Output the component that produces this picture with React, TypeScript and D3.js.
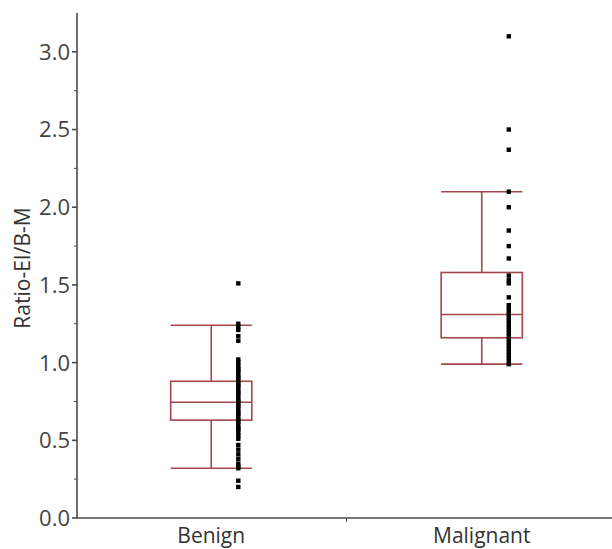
import React, { useEffect, useRef } from 'react';
import * as d3 from 'd3';

const categories = ['Benign', 'Malignant'];

// box statistics: [lower whisker, q1, median, q3, upper whisker]
const benignBox = [0.32, 0.63, 0.745, 0.88, 1.24];
const malignantBox = [0.99, 1.16, 1.31, 1.58, 2.10];

const benignPoints = [
  1.51, 1.25, 1.23, 1.21, 1.17, 1.14, 1.02, 1.00, 0.98, 0.96, 0.95, 0.93, 0.91, 0.90,
  0.88, 0.86, 0.85, 0.83, 0.81, 0.80, 0.78, 0.76, 0.75, 0.73, 0.72, 0.70, 0.68, 0.67,
  0.65, 0.63, 0.62, 0.60, 0.58, 0.57, 0.55, 0.53, 0.51, 0.47, 0.44, 0.41, 0.38, 0.35,
  0.33, 0.32, 0.24, 0.20
];
const malignantPoints = [
  3.10, 2.50, 2.37, 2.10, 2.00, 1.85, 1.75, 1.67, 1.56, 1.53, 1.51, 1.42, 1.37, 1.35,
  1.33, 1.31, 1.29, 1.27, 1.25, 1.23, 1.21, 1.19, 1.17, 1.15, 1.13, 1.11, 1.09, 1.07,
  1.05, 1.03, 1.01, 0.99
];

const yMajorTicks = [0, 0.5, 1.0, 1.5, 2.0, 2.5, 3.0];
const yMinorTicks = [0.25, 0.75, 1.25, 1.75, 2.25, 2.75];

const width = 612;
const height = 549;
const boxColor = '#a3474b';
const axisColor = '#4a4a4a';
const font = '"Open Sans", "DejaVu Sans", sans-serif';

export default function App() {
  const ref = useRef<SVGSVGElement>(null);

  useEffect(() => {
    const svg = d3.select(ref.current);
    svg.selectAll('*').remove();

    const x = d3.scaleBand().domain(categories).range([76, 617]).paddingInner(0);
    const y = d3.scaleLinear().domain([0, 3.25]).range([518, 13]);
    const bw = x.bandwidth();
    const boxW = bw * 0.3;

    const groups = [
      { name: 'Benign', box: benignBox, pts: benignPoints },
      { name: 'Malignant', box: malignantBox, pts: malignantPoints }
    ];

    groups.forEach((g) => {
      const cx = (x(g.name) as number) + bw / 2;
      const [lo, q1, med, q3, hi] = g.box;
      const gg = svg.append('g')
        .attr('stroke', boxColor)
        .attr('stroke-width', 1.6)
        .attr('fill', 'none');
      // whiskers
      gg.append('line').attr('x1', cx).attr('x2', cx).attr('y1', y(hi)).attr('y2', y(q3));
      gg.append('line').attr('x1', cx).attr('x2', cx).attr('y1', y(q1)).attr('y2', y(lo));
      gg.append('line').attr('x1', cx - boxW / 2).attr('x2', cx + boxW / 2).attr('y1', y(hi)).attr('y2', y(hi));
      gg.append('line').attr('x1', cx - boxW / 2).attr('x2', cx + boxW / 2).attr('y1', y(lo)).attr('y2', y(lo));
      gg.append('rect')
        .attr('x', cx - boxW / 2).attr('y', y(q3))
        .attr('width', boxW).attr('height', y(q1) - y(q3));
      gg.append('line').attr('x1', cx - boxW / 2).attr('x2', cx + boxW / 2).attr('y1', y(med)).attr('y2', y(med));

      // raw points
      const px = cx + bw * 0.1;
      svg.append('g')
        .selectAll('rect')
        .data(g.pts)
        .enter()
        .append('rect')
        .attr('x', px - 2.2)
        .attr('y', (d) => y(d) - 2.2)
        .attr('width', 4.4)
        .attr('height', 4.4)
        .attr('fill', '#000');
    });

    // axes
    const axes = svg.append('g').attr('stroke', axisColor).attr('stroke-width', 1.6);
    axes.append('line').attr('x1', 77).attr('x2', 77).attr('y1', 13).attr('y2', 518);
    axes.append('line').attr('x1', 77).attr('x2', width).attr('y1', 518).attr('y2', 518);
    axes.selectAll('.major').data(yMajorTicks).enter().append('line')
      .attr('x1', 72).attr('x2', 77).attr('y1', (d) => y(d)).attr('y2', (d) => y(d));
    axes.selectAll('.minor').data(yMinorTicks).enter().append('line')
      .attr('stroke-width', 1)
      .attr('x1', 74).attr('x2', 77).attr('y1', (d) => y(d)).attr('y2', (d) => y(d));
    axes.append('line')
      .attr('stroke-width', 1)
      .attr('x1', x('Malignant') as number).attr('x2', x('Malignant') as number)
      .attr('y1', 518).attr('y2', 522);

    svg.append('g').selectAll('text').data(yMajorTicks).enter().append('text')
      .attr('x', 70)
      .attr('y', (d) => y(d))
      .attr('dy', '0.36em')
      .attr('text-anchor', 'end')
      .attr('font-family', font)
      .attr('font-size', 22)
      .attr('fill', '#444')
      .text((d) => d.toFixed(1));

    svg.append('g').selectAll('text').data(categories).enter().append('text')
      .attr('x', (d) => (x(d) as number) + bw / 2)
      .attr('y', 543)
      .attr('text-anchor', 'middle')
      .attr('font-family', font)
      .attr('font-size', 21)
      .attr('fill', '#333')
      .text((d) => d);

    svg.append('text')
      .attr('transform', 'translate(30,268) rotate(-90)')
      .attr('text-anchor', 'middle')
      .attr('font-family', font)
      .attr('font-size', 21)
      .attr('fill', '#333')
      .text('Ratio-EI/B-M');
  }, []);

  return (
    <svg
      ref={ref}
      width={width}
      height={height}
      style={{ position: 'absolute', left: 0, top: 0, background: '#fff' }}
    />
  );
}
